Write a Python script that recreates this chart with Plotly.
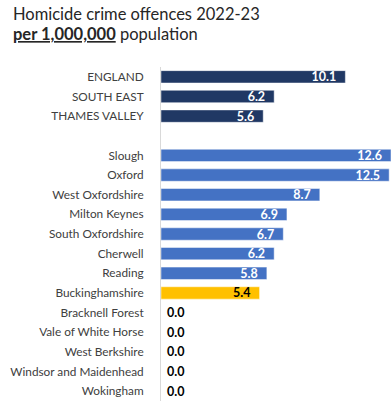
import plotly.graph_objects as go

areas = ["ENGLAND", "SOUTH EAST", "THAMES VALLEY", " ",
         "Slough", "Oxford", "West Oxfordshire", "Milton Keynes",
         "South Oxfordshire", "Cherwell", "Reading", "Buckinghamshire",
         "Bracknell Forest", "Vale of White Horse", "West Berkshire",
         "Windsor and Maidenhead", "Wokingham"]
rates = [10.1, 6.2, 5.6, None,
         12.6, 12.5, 8.7, 6.9, 6.7, 6.2, 5.8, 5.4,
         0.0, 0.0, 0.0, 0.0, 0.0]
groups = ["region", "region", "region", "blank",
          "la", "la", "la", "la", "la", "la", "la", "focus",
          "la", "la", "la", "la", "la"]

bar_colors = {"region": "#203864", "la": "#4472C4", "focus": "#FFC000", "blank": "#FFFFFF"}

NB = "\u00a0"
colors = [bar_colors[g] for g in groups]
texts = []
positions = []
text_colors = []
for g, v in zip(groups, rates):
    if v is None:
        texts.append("")
        positions.append("none")
        text_colors.append("#000000")
    elif v == 0:
        texts.append(NB + f"{v:.1f}")
        positions.append("outside")
        text_colors.append("#000000")
    else:
        texts.append(f"{v:.1f}" + NB * 2)
        positions.append("inside")
        text_colors.append("#000000" if g == "focus" else "#FFFFFF")

fig = go.Figure(go.Bar(
    x=rates, y=areas, orientation="h",
    marker=dict(color=colors, line=dict(color="rgba(255,255,255,0.6)", width=0.8)),
    text=texts, textposition=positions, insidetextanchor="end",
    textfont=dict(family="Lato", size=12.5, color=text_colors, weight="bold"),
    cliponaxis=False,
    hoverinfo="skip",
))

def py(p):
    return 1 + (67 - p) / 334

fig.add_annotation(text="Homicide crime offences 2022-23", xref="paper", yref="paper",
                   x=(11 - 161) / 230, y=py(14), xanchor="left", yanchor="middle",
                   showarrow=False, font=dict(family="Lato", size=16.5, color="#262626"))
fig.add_annotation(text="<b><u>per 1,000,000</u></b> population", xref="paper", yref="paper",
                   x=(11 - 161) / 230, y=py(34), xanchor="left", yanchor="middle",
                   showarrow=False, font=dict(family="Lato", size=16.5, color="#262626"))

fig.update_layout(
    width=391, height=402,
    margin=dict(l=161, r=0, t=67, b=1),
    paper_bgcolor="white", plot_bgcolor="white",
    bargap=0.37,
    showlegend=False,
    uniformtext=dict(minsize=12, mode="show"),
    font=dict(family="Lato", color="#404040"),
    xaxis=dict(range=[0, 12.6], visible=False, fixedrange=True),
    yaxis=dict(
        categoryorder="array", categoryarray=areas, autorange="reversed",
        showline=True, linecolor="#D9D9D9", linewidth=1,
        ticks="", showgrid=False, zeroline=False,
        ticklabelstandoff=14,
        tickfont=dict(family="Lato", size=11.8, color="#404040"),
    ),
)

fig.write_html("out.html")
